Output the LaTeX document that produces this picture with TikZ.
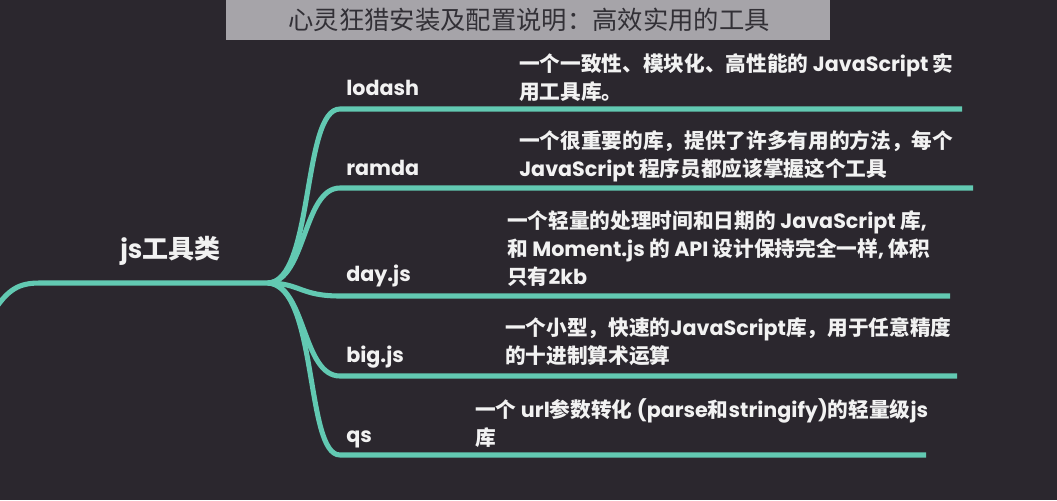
\documentclass[tikz,border=0pt]{standalone}
\usepackage{fontspec}
\setmainfont{Poppins}
\newfontfamily\zhfont{Noto Sans CJK SC}
\newcommand\zh[1]{{\zhfont #1}}
\definecolor{bgc}{RGB}{43,39,46}
\definecolor{titlebg}{RGB}{166,164,169}
\definecolor{titletxt}{RGB}{50,48,54}
\definecolor{tealc}{RGB}{98,201,178}
\definecolor{txt}{RGB}{242,242,242}
\begin{document}
\begin{tikzpicture}[x=0.75pt,y=-0.75pt,
  branch/.style={draw=tealc, line width=3.8pt, line cap=butt},
  lbl/.style={anchor=base west, inner sep=0pt, text=txt, font=\fontsize{15.5}{18}\selectfont\bfseries},
  desc/.style={anchor=base west, inner sep=0pt, text=txt, align=left, font=\fontsize{15.5}{21}\selectfont\bfseries},
  titletext/.style={inner sep=0pt, text=titletxt, font=\fontsize{19}{22}\selectfont}]
\fill[bgc] (0,0) rectangle (1057,500);
\useasboundingbox (0,0) rectangle (1057,500);
\fill[titlebg] (226,0) rectangle (830,40);
\node[titletext] (title) at (529,20) {\zh{心灵狂猎安装及配置说明：高效实用的工具}};

% root
\node[anchor=base west, inner sep=0pt, text=txt, font=\fontsize{19.5}{22}\selectfont\bfseries] (rootlabel) at (120,258) {js\zh{工具类}};
\coordinate (root) at (268,283);
\coordinate (start) at (-8,314);
\draw[branch] (start) .. controls (8,288) and (20,283) .. (40,283) -- (root);

% branches
\coordinate (e1) at (962,109);
\coordinate (e2) at (973,188);
\coordinate (e3) at (950,296);
\coordinate (e4) at (957,376);
\coordinate (e5) at (926,455);
\draw[branch] (root) .. controls (314,281) and (302,109) .. (340,109) -- (e1);
\draw[branch] (root) .. controls (306,281) and (303,188) .. (340,188) -- (e2);
\draw[branch] (root) .. controls (300,283) and (300,296) .. (340,296) -- (e3);
\draw[branch] (root) .. controls (306,285) and (302,376) .. (340,376) -- (e4);
\draw[branch] (root) .. controls (318,286) and (305,455) .. (340,455) -- (e5);

% labels
\node[lbl] (lodash) at (346,95) {lodash};
\node[lbl] (ramda) at (346,175) {ramda};
\node[lbl] (dayjs) at (346,281) {day.js};
\node[lbl] (bigjs) at (346,362) {big.js};
\node[lbl] (qs) at (346,442) {qs};

% descriptions (anchor = baseline of last line)
\node[desc] (d1) at (519,99) {\zh{一个一致性、模块化、高性能的} JavaScript \zh{实}\\\zh{用工具库。}};
\node[desc] (d2) at (519,176) {\zh{一个很重要的库，提供了许多有用的方法，每个}\\JavaScript \zh{程序员都应该掌握这个工具}};
\node[desc] (d3) at (507,284) {\zh{一个轻量的处理时间和日期的} JavaScript \zh{库}, \\\zh{和} Moment.js \zh{的} API \zh{设计保持完全一样}, \zh{体积}\\\zh{只有}2kb};
\node[desc] (d4) at (505,363) {\zh{一个小型，快速的}JavaScript\zh{库，用于任意精度}\\\zh{的十进制算术运算}};
\node[desc] (d5) at (475,445) {\zh{一个} url\zh{参数转化} (parse\zh{和}stringify)\zh{的轻量级}js\\\zh{库}};
\end{tikzpicture}
\end{document}
